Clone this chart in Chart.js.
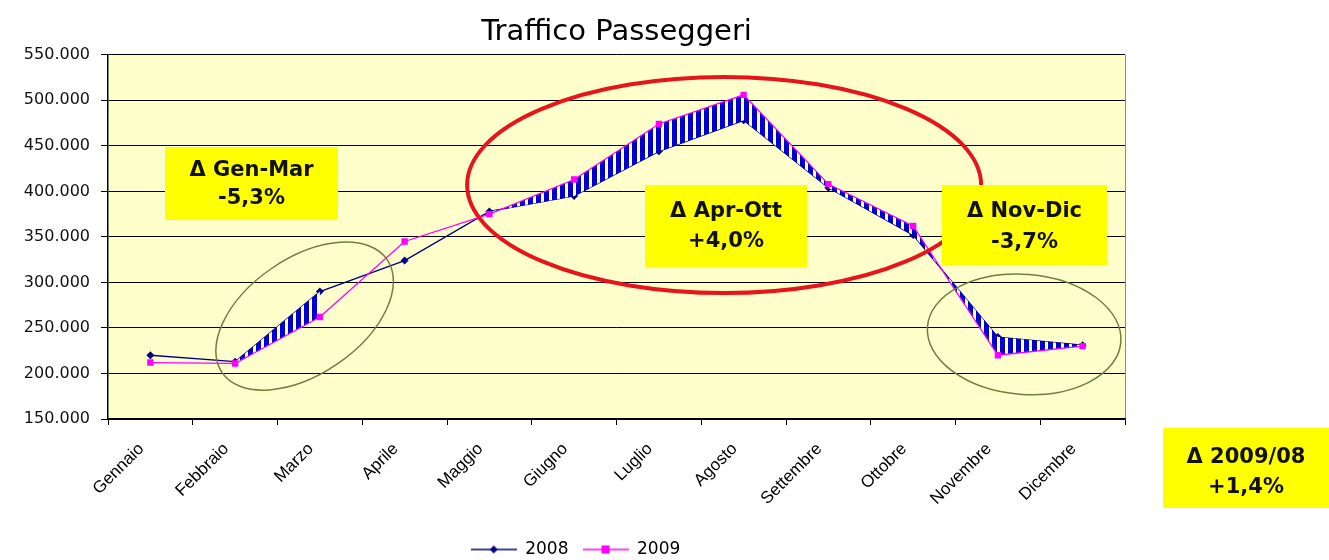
<!DOCTYPE html>
<html>
<head>
<meta charset="utf-8">
<script src="https://cdn.jsdelivr.net/npm/chart.js@4"></script>
<style>
  html, body { margin: 0; padding: 0; background: #fff; }
</style>
</head>
<body>
<canvas id="myChart" width="1329" height="560"></canvas>
<script>
// dati (migliaia di passeggeri)
const mesi = ['Gennaio', 'Febbraio', 'Marzo', 'Aprile', 'Maggio', 'Giugno', 'Luglio', 'Agosto', 'Settembre', 'Ottobre', 'Novembre', 'Dicembre']
const anni = ['2008', '2009']
const traffico2008 = [220, 213, 290, 324, 378, 395, 444, 478, 404, 352, 240, 231]
const traffico2009 = [212, 211, 262, 345, 375, 413, 474, 506, 408, 362, 220, 230]
const yMin = 150
const yMax = 550
const yStep = 50
// segmenti tratteggiati (indice del mese di partenza)
const segmentiEvidenziati = [1, 4, 5, 6, 7, 8, 9, 10]
const etichette = [
    ['\u0394 Gen-Mar', '-5,3%'],
    ['\u0394 Apr-Ott', '+4,0%'],
    ['\u0394 Nov-Dic', '-3,7%'],
    ['\u0394 2009/08', '+1,4%']
]

const makePattern = () => {
    const c = document.createElement('canvas')
    c.width = 8
    c.height = 8
    const p = c.getContext('2d')
    p.fillStyle = '#ffffff'
    p.fillRect(0, 0, 8, 8)
    p.fillStyle = '#0000cc'
    p.fillRect(0, 0, 5, 8)
    return document.createElement('canvas').getContext('2d').createPattern(c, 'repeat')
}
const hatch = makePattern()

const legendMarker = (color, style) => {
    const c = document.createElement('canvas')
    c.width = 46
    c.height = 12
    const p = c.getContext('2d')
    p.strokeStyle = color
    p.lineWidth = 1.5
    p.beginPath()
    p.moveTo(0, 6)
    p.lineTo(46, 6)
    p.stroke()
    p.fillStyle = color
    if (style === 'rectRot') {
        p.beginPath()
        p.moveTo(23, 2)
        p.lineTo(27, 6)
        p.lineTo(23, 10)
        p.lineTo(19, 6)
        p.closePath()
        p.fill()
    } else {
        p.fillRect(19, 2, 8, 8)
    }
    return c
}

const sfondo = {
    id: 'sfondo',
    beforeDraw(chart) {
        const { ctx, chartArea: a } = chart
        ctx.save()
        ctx.fillStyle = '#FFFFCC'
        ctx.fillRect(a.left, a.top, a.right - a.left, a.bottom - a.top)
        ctx.strokeStyle = '#8c8c8c'
        ctx.lineWidth = 1
        ctx.beginPath()
        ctx.moveTo(a.right + 0.5, a.top)
        ctx.lineTo(a.right + 0.5, a.bottom)
        ctx.stroke()
        ctx.restore()
    },
    afterLayout(chart) {
        // legenda leggermente spostata come nell'originale
        chart.legend.left += 13
        chart.legend.right += 13
        chart.legend.top += 8
        chart.legend.bottom += 8
    }
}

const ellisse = (ctx, x, y, rx, ry, rot, color, width) => {
    ctx.save()
    ctx.strokeStyle = color
    ctx.lineWidth = width
    ctx.beginPath()
    ctx.ellipse(x, y, rx, ry, rot, 0, Math.PI * 2)
    ctx.stroke()
    ctx.restore()
}

const annotazioni = {
    id: 'annotazioni',
    afterDraw(chart) {
        const { ctx } = chart
        const xs = chart.scales.x
        const ys = chart.scales.y
        ellisse(ctx, xs.getPixelForValue(6.77), ys.getPixelForValue(407), 257, 108, 0, '#e8141c', 4)
        ellisse(ctx, xs.getPixelForValue(1.82), ys.getPixelForValue(263), 100, 58, -0.6, '#6f7f3c', 1.5)
        ellisse(ctx, xs.getPixelForValue(10.31), ys.getPixelForValue(243), 97, 60, 0.08, '#6f7f3c', 1.5)

        const caselle = [
            [165, 147, 173, 73, 171, 199],
            [645, 185, 162, 82, 212, 242],
            [942, 185, 165, 80, 212, 243],
            [1163, 428, 166, 80, 458, 488]
        ]
        ctx.save()
        ctx.font = 'bold 21px "DejaVu Sans"'
        ctx.textAlign = 'center'
        ctx.textBaseline = 'middle'
        caselle.forEach((b, i) => {
            ctx.fillStyle = '#ffff00'
            ctx.fillRect(b[0], b[1], b[2], b[3])
            ctx.fillStyle = '#111'
            ctx.fillText(etichette[i][0], b[0] + b[2] / 2, b[4])
            ctx.fillText(etichette[i][1], b[0] + b[2] / 2, b[5])
        })
        ctx.restore()
    }
}

const ctx = document.getElementById('myChart').getContext('2d')
const chart = new Chart(ctx, {
    type: 'line',
    data: {
        labels: mesi,
        datasets: [
            {
                label: anni[0],
                data: traffico2008,
                borderColor: '#000080',
                backgroundColor: '#000080',
                borderWidth: 1.3,
                pointStyle: 'rectRot',
                pointRadius: 4,
                pointBorderWidth: 0,
                tension: 0,
                order: 1
            },
            {
                label: anni[1],
                data: traffico2009,
                borderColor: '#ff00ff',
                backgroundColor: 'rgba(0,0,0,0)',
                pointBackgroundColor: '#ff00ff',
                borderWidth: 1.3,
                pointStyle: 'rect',
                pointRadius: 4.5,
                pointBorderWidth: 0,
                tension: 0,
                fill: '-1',
                segment: {
                    backgroundColor: c => segmentiEvidenziati.includes(c.p0DataIndex) ? hatch : undefined
                },
                order: 0
            }
        ]
    },
    options: {
        responsive: false,
        animation: false,
        layout: {
            padding: { left: 0, right: 204, top: 0, bottom: 0 }
        },
        scales: {
            x: {
                offset: true,
                grid: {
                    offset: true,
                    drawOnChartArea: false,
                    drawTicks: true,
                    tickLength: 6,
                    color: '#000'
                },
                border: { color: '#000', width: 1.5 },
                ticks: {
                    autoSkip: false,
                    minRotation: 45,
                    maxRotation: 45,
                    padding: 14,
                    labelOffset: -9,
                    color: '#000',
                    font: { family: '"Liberation Sans"', size: 17 }
                },
                afterFit: s => {
                    s.height = 141 - (s.chart.legend ? s.chart.legend.height : 36)
                }
            },
            y: {
                min: yMin,
                max: yMax,
                grid: {
                    color: '#000',
                    lineWidth: 1,
                    tickLength: 7
                },
                border: { color: '#000', width: 1.5 },
                ticks: {
                    stepSize: yStep,
                    padding: 11,
                    color: '#111',
                    font: { family: '"DejaVu Sans"', size: 16 },
                    callback: v => v + '.000'
                },
                afterFit: s => {
                    s.width = 108
                }
            }
        },
        plugins: {
            title: {
                display: true,
                text: 'Traffico Passeggeri',
                fullSize: false,
                color: '#000',
                font: { family: '"DejaVu Sans"', size: 29, weight: 'normal' },
                padding: { top: 15, bottom: 5 }
            },
            legend: {
                position: 'bottom',
                labels: {
                    usePointStyle: true,
                    pointStyleWidth: 46,
                    padding: 14,
                    color: '#000',
                    font: { family: '"DejaVu Sans"', size: 17 },
                    generateLabels: chart => [
                        { text: anni[0], pointStyle: legendMarker('#000080', 'rectRot'), fontColor: '#000', datasetIndex: 0, lineWidth: 0, strokeStyle: 'rgba(0,0,0,0)', fillStyle: 'rgba(0,0,0,0)' },
                        { text: anni[1], pointStyle: legendMarker('#ff00ff', 'rect'), fontColor: '#000', datasetIndex: 1, lineWidth: 0, strokeStyle: 'rgba(0,0,0,0)', fillStyle: 'rgba(0,0,0,0)' }
                    ]
                }
            },
            tooltip: { enabled: false }
        }
    },
    plugins: [sfondo, annotazioni]
})
</script>
</body>
</html>
